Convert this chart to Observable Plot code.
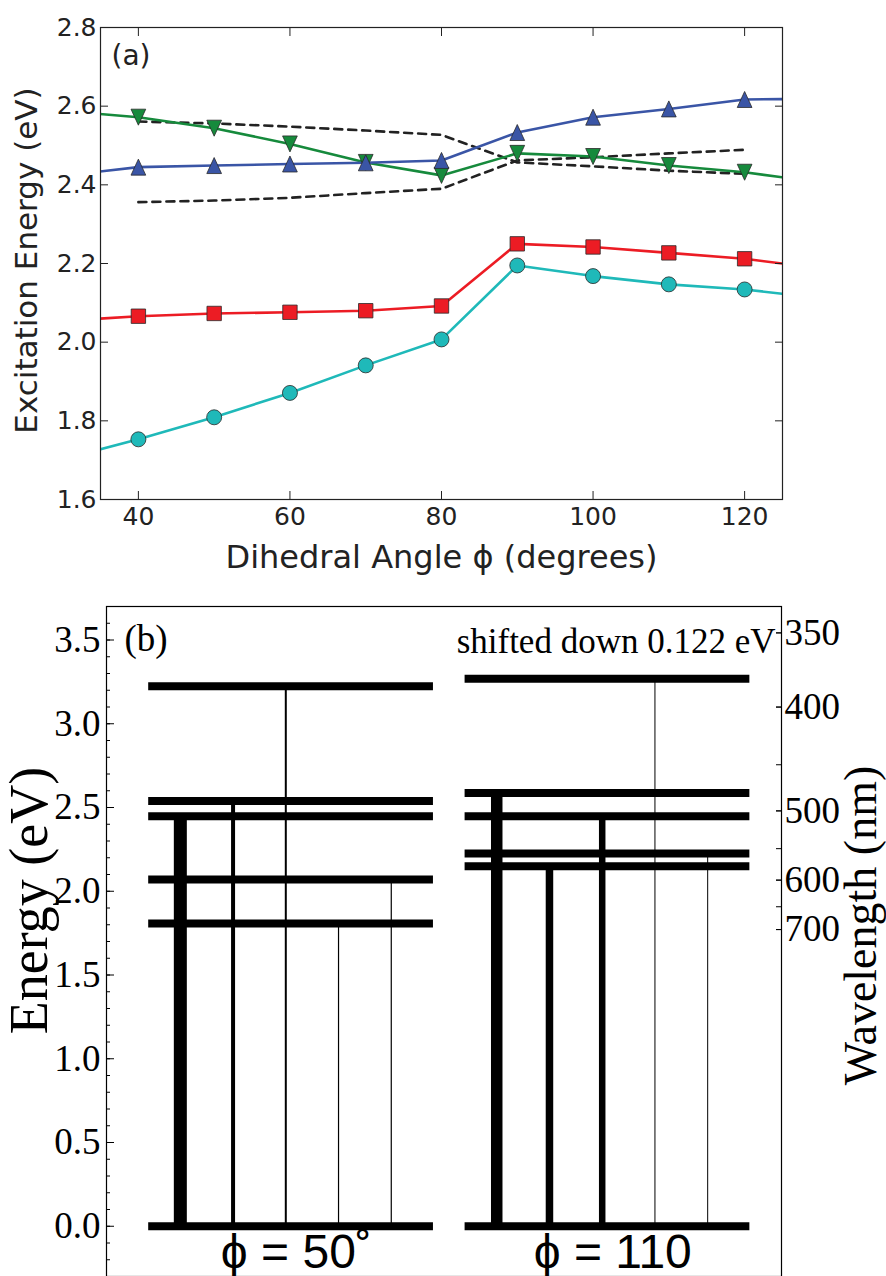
<!DOCTYPE html>
<html><head><meta charset="utf-8">
<script src="https://cdn.jsdelivr.net/npm/d3@7"></script>
<script src="https://cdn.jsdelivr.net/npm/@observablehq/plot@0.6"></script>
<style>
html,body{margin:0;padding:0;background:#fff;}
#chart{width:886px;height:1276px;overflow:hidden;}
#chart svg{display:block;}
</style></head><body><div id="chart"></div>
<script>
// ---------- Panel (a) data ----------
const angles = [30, 40, 50, 60, 70, 80, 90, 100, 110, 120, 130];
const cyanCircles   = [1.703, 1.753, 1.809, 1.871, 1.941, 2.007, 2.195, 2.168, 2.147, 2.134, 2.112];
const redSquares    = [2.054, 2.066, 2.073, 2.076, 2.080, 2.092, 2.250, 2.242, 2.227, 2.212, 2.188];
const greenTriDown  = [2.588, 2.572, 2.544, 2.504, 2.457, 2.424, 2.480, 2.472, 2.449, 2.432, 2.406];
const blueTriUp     = [2.423, 2.445, 2.449, 2.453, 2.456, 2.462, 2.533, 2.572, 2.593, 2.617, 2.619];
const dashAngles = [40, 50, 60, 70, 80, 90, 100, 110, 120];
const dashA = [2.561, 2.556, 2.548, 2.538, 2.527, 2.457, 2.447, 2.436, 2.428];
const dashB = [2.356, 2.360, 2.367, 2.379, 2.390, 2.462, 2.470, 2.480, 2.489];
const xTicksA = [40, 60, 80, 100, 120];
const yTicksA = [1.6, 1.8, 2.0, 2.2, 2.4, 2.6, 2.8];

// ---------- Panel (b) data ----------
const groupLabels = ["ϕ = 50˚", "ϕ = 110"];
const levels50  = [0, 1.808, 2.070, 2.448, 2.539, 3.224];
const levels110 = [0, 2.150, 2.225, 2.448, 2.586, 3.268];
const transE50  = [2.448, 2.539, 3.224, 1.808, 2.070];
const oscF50    = [1.3, 0.4, 0.2, 0.12, 0.12];
const transE110 = [2.586, 2.150, 2.448, 3.268, 2.225];
const oscF110   = [1.15, 0.75, 0.65, 0.1, 0.1];
const energyTicks = [0, 0.5, 1.0, 1.5, 2.0, 2.5, 3.0, 3.5];
const energyMinor = d3.range(-2, 37).map(i => i / 10);
const wavelengthTicks = [350, 400, 450, 500, 550, 600, 650, 700];
const wavelengthLabels = [350, 400, 500, 600, 700];
const shiftNote = "shifted down 0.122 eV";

const HC = 1239.84; // eV*nm

// ---------- helpers ----------
const triUp = {draw(ctx, size) { const r = Math.sqrt(size / Math.PI); ctx.moveTo(0, -r); ctx.lineTo(-r * 0.92, r); ctx.lineTo(r * 0.92, r); ctx.closePath(); }};
const triDown = {draw(ctx, size) { const r = Math.sqrt(size / Math.PI); ctx.moveTo(0, r); ctx.lineTo(-r * 0.92, -r); ctx.lineTo(r * 0.92, -r); ctx.closePath(); }};
const sqr = {draw(ctx, size) { const r = Math.sqrt(size / Math.PI); ctx.rect(-r, -r, 2 * r, 2 * r); }};

const seriesA = [
  {vals: cyanCircles,  color: "#1fb9b9", symbol: "circle", r: 7.5},
  {vals: redSquares,   color: "#ec1c24", symbol: sqr,      r: 7.2},
  {vals: greenTriDown, color: "#168a3c", symbol: triDown,  r: 8},
  {vals: blueTriUp,    color: "#3a55a6", symbol: triUp,    r: 8}
];
const rowsOf = s => angles.map((a, i) => ({angle: a, energy: s.vals[i]}));

const marksA = [];
[dashA, dashB].forEach(v => {
  marksA.push(Plot.line(dashAngles.map((a, i) => ({angle: a, energy: v[i]})),
    {x: "angle", y: "energy", stroke: "#222", strokeWidth: 2.6, strokeDasharray: "8,6"}));
});
seriesA.forEach(s => {
  marksA.push(Plot.line(rowsOf(s), {x: "angle", y: "energy", stroke: s.color, strokeWidth: 2.6, clip: true}));
});
seriesA.forEach(s => {
  marksA.push(Plot.dot(rowsOf(s).filter(d => d.angle >= 35 && d.angle <= 125),
    {x: "angle", y: "energy", symbol: s.symbol, r: s.r, fill: s.color, stroke: "#2a2a2a", strokeWidth: 0.8}));
});

const plotA = Plot.plot({
  width: 886, height: 590,
  marginTop: 27, marginLeft: 100, marginRight: 104, marginBottom: 91,
  x: {domain: [35, 125], axis: null, label: null},
  y: {domain: [1.6, 2.8], axis: null, label: null},
  style: {fontFamily: "DejaVu Sans", fontSize: "24px", color: "#222", background: "#fff"},
  marks: [
    ...marksA,
    Plot.frame({stroke: "#222", strokeWidth: 1.2}),
    Plot.axisX(xTicksA, {anchor: "bottom", tickSize: -8, tickPadding: 16, label: null, fontSize: 25}),
    Plot.axisX(xTicksA, {anchor: "top", tickSize: -8, fill: "none", label: null}),
    Plot.axisY(yTicksA, {anchor: "left", tickSize: -8, tickPadding: 12, tickFormat: d3.format(".1f"), label: null, fontSize: 25}),
    Plot.axisY(yTicksA, {anchor: "right", tickSize: -8, fill: "none", label: null}),
    Plot.text(["(a)"], {frameAnchor: "top-left", dx: 11, dy: 37, lineAnchor: "bottom", textAnchor: "start", fontSize: 28}),
    Plot.text(["Excitation Energy (eV)"], {frameAnchor: "left", rotate: -90, textAnchor: "middle", dx: -73, dy: -3, fontSize: 31}),
    Plot.text(["Dihedral Angle ϕ (degrees)"], {frameAnchor: "bottom", textAnchor: "middle", dy: 68, lineAnchor: "bottom", fontSize: 32})
  ]
});

// ---------- Panel (b) ----------
const groupsB = [
  {levels: levels50, trans: transE50, osc: oscF50},
  {levels: levels110, trans: transE110, osc: oscF110}
];
const levelRows = [], transRows = [], labelRows = [];
groupsB.forEach((g, gi) => {
  const base = gi * 6;
  g.levels.forEach(e => levelRows.push({x1: base + 0.4, x2: base + 5.8, energy: e}));
  g.trans.forEach((e, i) => transRows.push({slot: base + 1 + i, energy: e, f: g.osc[i]}));
  labelRows.push({x: base + 3.2, label: groupLabels[gi]});
});

const plotB = Plot.plot({
  width: 886, height: 686,
  marginTop: 16, marginLeft: 106, marginRight: 105, marginBottom: 0,
  x: {domain: [-0.4, 12.4], axis: null, label: null},
  y: {domain: [-0.3, 3.7], axis: null, label: null},
  style: {fontFamily: "Liberation Serif", fontSize: "36px", color: "#000", background: "#fff"},
  marks: [
    Plot.ruleX(transRows, {x: "slot", y1: 0, y2: "energy", stroke: "#000", strokeWidth: d => d.f * 10}),
    Plot.ruleY(levelRows, {y: "energy", x1: "x1", x2: "x2", stroke: "#000", strokeWidth: 8}),
    Plot.frame({stroke: "#000", strokeWidth: 1.2}),
    Plot.axisY(energyMinor, {anchor: "left", tickSize: -4, fill: "none", label: null}),
    Plot.axisY(energyTicks, {anchor: "left", tickSize: -8, tickPadding: 14, tickFormat: d3.format(".1f"), label: null, fontSize: 37}),
    Plot.axisY(wavelengthTicks.map(l => HC / l), {anchor: "right", tickSize: -6, fill: "none", label: null}),
    Plot.axisY(wavelengthLabels.map(l => HC / l), {anchor: "right", tickSize: -6, tickPadding: 9, tickFormat: e => String(Math.round(HC / e)), label: null, fontSize: 37}),
    Plot.text(["(b)"], {frameAnchor: "top-left", dx: 18, dy: 44, lineAnchor: "bottom", textAnchor: "start", fontSize: 37}),
    Plot.text([shiftNote], {frameAnchor: "top-right", dx: -6, dy: 46, lineAnchor: "bottom", textAnchor: "end", fontSize: 35}),
    Plot.text(labelRows, {x: "x", y: -0.25, text: "label", lineAnchor: "bottom", textAnchor: "middle", fontFamily: "Liberation Sans", fontSize: 48}),
    Plot.text(["Energy (eV)"], {frameAnchor: "left", rotate: -90, textAnchor: "middle", dx: -77, dy: -41, fontSize: 54}),
    Plot.text(["Wavelength (nm)"], {frameAnchor: "right", rotate: -90, textAnchor: "middle", dx: 80, dy: -16, fontSize: 46})
  ]
});

document.getElementById("chart").append(plotA, plotB);
</script></body></html>
